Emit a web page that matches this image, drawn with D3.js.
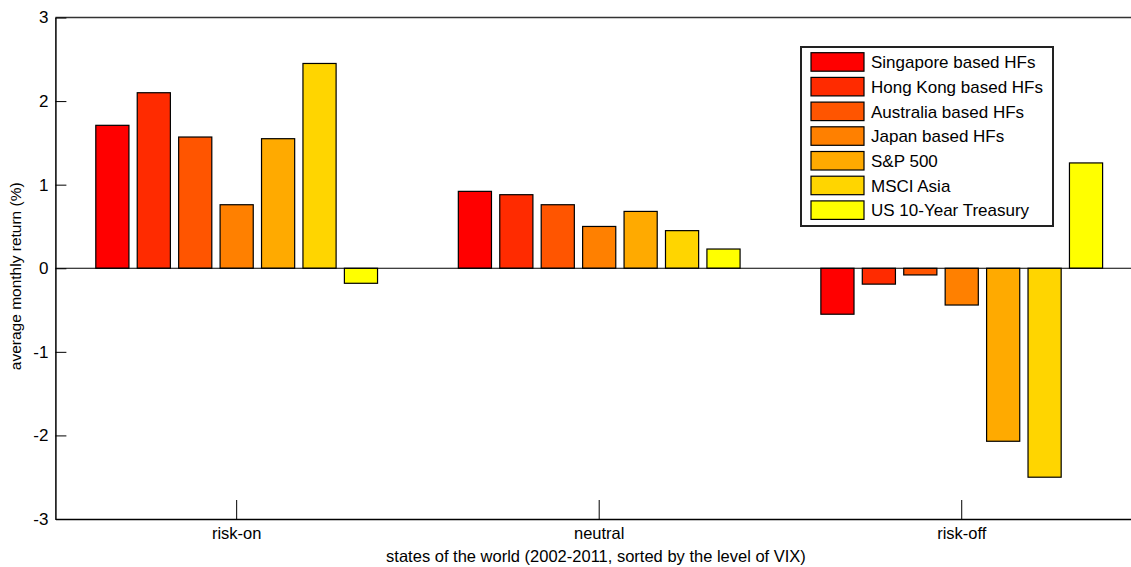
<!DOCTYPE html>
<html>
<head>
<meta charset="utf-8">
<script src="https://cdn.jsdelivr.net/npm/d3@7"></script>
<style>
  html, body { margin: 0; padding: 0; background: #fff; }
  svg { display: block; font-family: "Liberation Sans", Arial, Helvetica, sans-serif; }
</style>
</head>
<body>
<svg id="chart" width="1131" height="567"></svg>
<script>
// ---- data ----
const categories = ["risk-on", "neutral", "risk-off"];
const seriesNames = [
  "Singapore based HFs",
  "Hong Kong based HFs",
  "Australia based HFs",
  "Japan based HFs",
  "S&P 500",
  "MSCI Asia",
  "US 10-Year Treasury"
];
const singapore = [1.71, 0.92, -0.55];
const hongKong  = [2.10, 0.88, -0.19];
const australia = [1.57, 0.76, -0.08];
const japan     = [0.76, 0.50, -0.44];
const sp500     = [1.55, 0.68, -2.07];
const msciAsia  = [2.45, 0.45, -2.50];
const treasury  = [-0.18, 0.23, 1.26];
const seriesColors = ["#FF0000", "#FF2B00", "#FF5500", "#FF8000", "#FFAA00", "#FFD500", "#FFFF00"];
const yTicks = [-3, -2, -1, 0, 1, 2, 3];
const xTitle = "states of the world (2002-2011, sorted by the level of VIX)";
const yTitle = "average monthly return (%)";

const seriesValues = [singapore, hongKong, australia, japan, sp500, msciAsia, treasury];

(function draw() {
  const svg = d3.select("#chart");
  const mLeft = 55.4, mRight = 1143, mTop = 17.5, mBottom = 519;

  const x0 = d3.scaleBand().domain(categories).range([mLeft, mRight]).paddingInner(0).paddingOuter(0);
  const x1 = d3.scaleBand().domain(seriesNames)
    .range([0.1 * x0.bandwidth(), 0.9 * x0.bandwidth()])
    .paddingInner(0.2).paddingOuter(0.1);
  const y = d3.scaleLinear().domain([-3, 3]).range([mBottom, mTop]);

  // bars
  const rows = [];
  categories.forEach((c, ci) => {
    seriesNames.forEach((s, si) => {
      rows.push({ c, s, si, v: seriesValues[si][ci] });
    });
  });
  svg.append("g").selectAll("rect").data(rows).join("rect")
    .attr("x", d => x0(d.c) + x1(d.s))
    .attr("width", x1.bandwidth())
    .attr("y", d => y(Math.max(0, d.v)))
    .attr("height", d => Math.abs(y(d.v) - y(0)))
    .attr("fill", d => seriesColors[d.si])
    .attr("stroke", "#000")
    .attr("stroke-width", 1.2);

  // baseline at zero
  svg.append("line")
    .attr("x1", mLeft).attr("x2", mRight)
    .attr("y1", y(0)).attr("y2", y(0))
    .attr("stroke", "#000").attr("stroke-width", 1);

  // top frame
  svg.append("line")
    .attr("x1", mLeft).attr("x2", mRight)
    .attr("y1", mTop).attr("y2", mTop)
    .attr("stroke", "#333").attr("stroke-width", 1.5);

  // y axis (ticks inside)
  const yAxis = d3.axisLeft(y).tickValues(yTicks).tickFormat(d => String(d))
    .tickSizeInner(-11).tickSizeOuter(0).tickPadding(7);
  const gy = svg.append("g").attr("transform", `translate(${mLeft},0)`).call(yAxis);
  gy.select(".domain").attr("stroke", "#000").attr("stroke-width", 1.5);
  gy.selectAll(".tick line").attr("stroke", "#000");
  gy.selectAll(".tick text").attr("font-size", 17).attr("fill", "#000")
    .attr("font-family", "'Liberation Sans', Arial, sans-serif");

  // x axis (ticks inside)
  const xAxis = d3.axisBottom(x0).tickSizeInner(-19).tickSizeOuter(0).tickPadding(8);
  const gx = svg.append("g").attr("transform", `translate(0,${mBottom})`).call(xAxis);
  gx.select(".domain").attr("stroke", "#000").attr("stroke-width", 1.5);
  gx.selectAll(".tick line").attr("stroke", "#000");
  gx.selectAll(".tick text").attr("font-size", 16.5).attr("fill", "#000")
    .attr("font-family", "'Liberation Sans', Arial, sans-serif");

  // axis titles
  svg.append("text")
    .attr("x", 596).attr("y", 562)
    .attr("text-anchor", "middle").attr("font-size", 16.5).attr("fill", "#000")
    .text(xTitle);
  svg.append("text")
    .attr("transform", `translate(21,${(mTop + mBottom) / 2 + 8}) rotate(-90)`)
    .attr("text-anchor", "middle").attr("font-size", 15.5).attr("fill", "#000")
    .text(yTitle);

  // legend
  const lg = svg.append("g").attr("transform", "translate(801,47)");
  lg.append("rect").attr("width", 252).attr("height", 179)
    .attr("fill", "#fff").attr("stroke", "#222").attr("stroke-width", 2);
  const item = lg.selectAll("g.item").data(seriesNames).join("g")
    .attr("class", "item")
    .attr("transform", (d, i) => `translate(10,${5.7 + i * 24.7})`);
  item.append("rect").attr("width", 53).attr("height", 18.5)
    .attr("fill", (d, i) => seriesColors[i]).attr("stroke", "#000").attr("stroke-width", 1.2);
  item.append("text").attr("x", 60).attr("y", 15.5)
    .attr("font-size", 17).attr("fill", "#000").text(d => d);
})();
</script>
</body>
</html>
